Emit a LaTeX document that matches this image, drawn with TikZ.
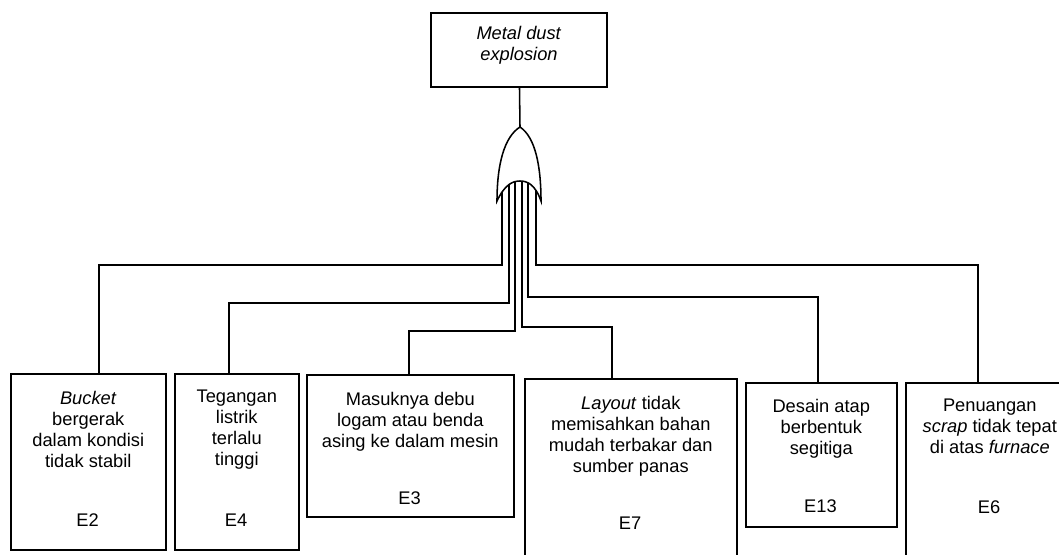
\documentclass[tikz,border=0pt]{standalone}
\usepackage{fontspec}
\setmainfont{Liberation Sans}
\usetikzlibrary{positioning}

\tikzset{
  evbox/.style={draw, inner sep=0pt, anchor=north west},
  evtext/.style={inner sep=0pt, align=center, anchor=north},
  evlabel/.style={inner sep=0pt}
}

\begin{document}
\begin{tikzpicture}[x=0.025cm, y=-0.025cm, line width=1.1pt,
    font=\fontsize{13}{15}\selectfont]
  \useasboundingbox (0,0) rectangle (1059,554);
  \clip (0,0) rectangle (1059,554);
  % top event
  \node[draw, minimum width=4.4cm, minimum height=1.85cm] (top) at (519,50) {};
  \node[evtext, anchor=center] (toptext) at (519,45)
    {\textit{Metal dust}\\\textit{explosion}};
  % basic events
  \node[evbox, minimum width=3.875cm, minimum height=4.4cm] (e2) at (10,373) {};
  \node[evbox, minimum width=3.1cm, minimum height=4.4cm] (e4) at (174,373) {};
  \node[evbox, minimum width=5.175cm, minimum height=3.55cm] (e3) at (306,374) {};
  \node[evbox, minimum width=5.3cm, minimum height=6.25cm] (e7) at (524,378) {};
  \node[evbox, minimum width=3.775cm, minimum height=3.6cm] (e13) at (745,382) {};
  \node[evbox, minimum width=4.2cm, minimum height=6.25cm] (e6) at (905,382) {};
  \node[evtext] (e2text) at ([yshift=-12.5pt]e2.north)
    {\textit{Bucket}\\bergerak\\dalam kondisi\\tidak stabil};
  \node[evtext] (e4text) at ([yshift=-11.5pt]e4.north)
    {Tegangan\\listrik\\terlalu\\tinggi};
  \node[evtext] (e3text) at ([yshift=-12.5pt]e3.north)
    {Masuknya debu\\logam atau benda\\asing ke dalam mesin};
  \node[evtext] (e7text) at ([yshift=-12.5pt]e7.north)
    {\textit{Layout} tidak\\memisahkan bahan\\mudah terbakar dan\\sumber panas};
  \node[evtext] (e13text) at ([yshift=-11.5pt]e13.north)
    {Desain atap\\berbentuk\\segitiga};
  \node[evtext] (e6text) at ([yshift=-11.5pt]e6.north)
    {Penuangan\\\textit{scrap} tidak tepat\\di atas \textit{furnace}};
  \node[evlabel] (e2lab) at (87.5,520) {E2};
  \node[evlabel] (e4lab) at (236,520) {E4};
  \node[evlabel] (e3lab) at (409.5,498) {E3};
  \node[evlabel] (e7lab) at (630,523) {E7};
  \node[evlabel] (e13lab) at (820.5,506) {E13};
  \node[evlabel] (e6lab) at (989,507) {E6};
  % gate inputs and bends
  \coordinate (apex) at (520,127);
  \coordinate (in1) at (502,180);
  \coordinate (in2) at (509,180);
  \coordinate (in3) at (515,180);
  \coordinate (in4) at (522,180);
  \coordinate (in5) at (528,180);
  \coordinate (in6) at (536,180);
  \coordinate (j2) at (99,265);
  \coordinate (j4) at (229,303);
  \coordinate (j3) at (409,331);
  \coordinate (j7) at (612,327);
  \coordinate (j13) at (818,297);
  \coordinate (j6) at (978,265);
  \draw (in1) |- (j2) -- (j2 |- e2.north);
  \draw (in2) |- (j4) -- (j4 |- e4.north);
  \draw (in3) |- (j3) -- (j3 |- e3.north);
  \draw (in4) |- (j7) -- (j7 |- e7.north);
  \draw (in5) |- (j13) -- (j13 |- e13.north);
  \draw (in6) |- (j6) -- (j6 |- e6.north);
  % OR gate
  \draw (top) -- (apex);
  \filldraw[fill=white] (apex) .. controls (504,137) and (497,165) .. (497,201)
    .. controls (505,184) and (513,181) .. (520,181)
    .. controls (527,181) and (535,184) .. (541,201)
    .. controls (541,165) and (535,137) .. cycle;
\end{tikzpicture}
\end{document}
